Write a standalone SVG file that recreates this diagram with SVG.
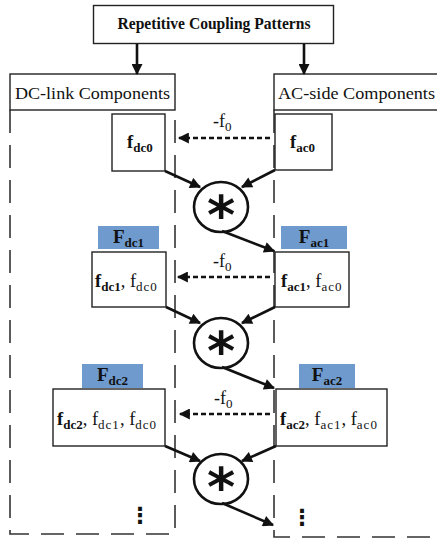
<svg xmlns="http://www.w3.org/2000/svg" width="437" height="540" viewBox="0 0 437 540">
<defs>
<marker id="ah" viewBox="0 0 10 10" markerUnits="userSpaceOnUse" markerWidth="13" markerHeight="11" refX="9" refY="5" orient="auto">
<path d="M0,0 L10,5 L0,10 z" fill="#111"/>
</marker>
<style>
.box{fill:#fff;stroke:#222;stroke-width:1.4}
.cont{fill:none;stroke:#333;stroke-width:1.6;stroke-dasharray:23 12}
.lbl{fill:#6f9acd}
.arr{stroke:#111;stroke-width:2.6;fill:none;marker-end:url(#ah)}
.darr{stroke:#111;stroke-width:2.6;fill:none;stroke-dasharray:5 3;marker-end:url(#ah)}
.circ{fill:#fff;stroke:#111;stroke-width:2.6}
text{font-family:"Liberation Serif","Times New Roman",serif;fill:#111}
.t{font-size:18.5px}
.s{font-size:13px}
.b{font-weight:bold}
.ast{font-family:"DejaVu Sans",sans-serif;font-weight:bold;font-size:54px;text-anchor:middle}
.dots{font-family:"DejaVu Sans",sans-serif;font-weight:bold;font-size:22px;text-anchor:middle}
</style>
</defs>

<g id="title">
<rect class="box" x="93.5" y="5.5" width="240" height="38"/>
<text x="214" y="29" text-anchor="middle" class="b" font-size="16.5" textLength="193" lengthAdjust="spacingAndGlyphs">Repetitive Coupling Patterns</text>
</g>

<g id="dc-container">
<path class="cont" d="M10,110 V534 H175 V110"/>
<rect class="box" x="10" y="74" width="165" height="36"/>
<text x="15" y="99" font-size="17.5" textLength="155" lengthAdjust="spacingAndGlyphs">DC-link Components</text>
</g>

<g id="ac-container">
<path class="cont" d="M274,110 V537 H445"/>
<rect class="box" x="274" y="74" width="170" height="36"/>
<text x="278" y="99" font-size="17.5" textLength="157" lengthAdjust="spacingAndGlyphs">AC-side Components</text>
</g>

<g id="fdc0">
<rect class="box" x="112" y="114" width="53" height="57"/>
<text x="127" y="148" class="t b">f<tspan class="s" dy="4">dc0</tspan></text>
</g>
<g id="fac0">
<rect class="box" x="275" y="114" width="57" height="56"/>
<text x="290" y="148" class="t b">f<tspan class="s" dy="4">ac0</tspan></text>
</g>

<g id="Fdc1">
<rect class="lbl" x="98" y="226" width="61" height="23"/>
<text x="128.5" y="243" text-anchor="middle" class="b" font-size="19">F<tspan class="s" dy="4">dc1</tspan></text>
</g>
<g id="Fac1">
<rect class="lbl" x="281" y="226" width="66" height="23"/>
<text x="314" y="243" text-anchor="middle" class="b" font-size="19">F<tspan class="s" dy="4">ac1</tspan></text>
</g>
<g id="fdc1">
<rect class="box" x="92" y="252" width="74" height="55"/>
<text x="95" y="287" class="t"><tspan class="b">f</tspan><tspan class="s b" dy="4">dc1</tspan><tspan dy="-4">, f</tspan><tspan class="s" dy="4" letter-spacing="1">dc0</tspan></text>
</g>
<g id="fac1">
<rect class="box" x="275" y="252" width="74" height="55"/>
<text x="281" y="287" class="t"><tspan class="b">f</tspan><tspan class="s b" dy="4">ac1</tspan><tspan dy="-4">, f</tspan><tspan class="s" dy="4" letter-spacing="1">ac0</tspan></text>
</g>

<g id="Fdc2">
<rect class="lbl" x="82" y="364" width="61" height="24"/>
<text x="112.5" y="381" text-anchor="middle" class="b" font-size="19">F<tspan class="s" dy="4">dc2</tspan></text>
</g>
<g id="Fac2">
<rect class="lbl" x="299" y="364" width="56" height="24"/>
<text x="327" y="381" text-anchor="middle" class="b" font-size="19">F<tspan class="s" dy="4">ac2</tspan></text>
</g>
<g id="fdc2">
<rect class="box" x="53" y="389" width="112" height="57"/>
<text x="57" y="425" class="t"><tspan class="b">f</tspan><tspan class="s b" dy="4">dc2</tspan><tspan dy="-4">, f</tspan><tspan class="s" dy="4" letter-spacing="1">dc1</tspan><tspan dy="-4">, f</tspan><tspan class="s" dy="4" letter-spacing="1">dc0</tspan></text>
</g>
<g id="fac2">
<rect class="box" x="276" y="389" width="111" height="57"/>
<text x="280" y="425" class="t"><tspan class="b">f</tspan><tspan class="s b" dy="4">ac2</tspan><tspan dy="-4">, f</tspan><tspan class="s" dy="4" letter-spacing="1">ac1</tspan><tspan dy="-4">, f</tspan><tspan class="s" dy="4" letter-spacing="1">ac0</tspan></text>
</g>

<g id="conv1">
<ellipse class="circ" cx="221" cy="207" rx="27" ry="25"/>
<text class="ast" x="221" y="234">*</text>
</g>
<g id="conv2">
<ellipse class="circ" cx="221" cy="343" rx="27" ry="25"/>
<text class="ast" x="221" y="370">*</text>
</g>
<g id="conv3">
<ellipse class="circ" cx="221" cy="479" rx="27" ry="25"/>
<text class="ast" x="221" y="506">*</text>
</g>

<g id="dots-dc"><text class="dots" x="140" y="523">⋮</text></g>
<g id="dots-ac"><text class="dots" x="302" y="525">⋮</text></g>

<g id="connectors">
<line class="arr" x1="137" y1="44" x2="137" y2="74"/>
<line class="arr" x1="304" y1="44" x2="304" y2="74"/>

<line class="darr" x1="270" y1="138" x2="179" y2="138"/>
<line class="darr" x1="270" y1="277" x2="178" y2="277"/>
<line class="darr" x1="270" y1="414" x2="180" y2="414"/>

<line class="arr" x1="165" y1="171" x2="200" y2="187"/>
<line class="arr" x1="275" y1="170" x2="242" y2="187"/>
<line class="arr" x1="222" y1="231" x2="274" y2="251"/>

<line class="arr" x1="166" y1="307" x2="200" y2="323"/>
<line class="arr" x1="275" y1="307" x2="242" y2="323"/>
<line class="arr" x1="222" y1="367" x2="274" y2="388"/>

<line class="arr" x1="165" y1="446" x2="200" y2="461"/>
<line class="arr" x1="276" y1="446" x2="242" y2="461"/>
<line class="arr" x1="222" y1="503" x2="273" y2="525"/>

<text x="213" y="127" font-size="18">-f<tspan font-size="13" dy="4">0</tspan></text>
<text x="213" y="267" font-size="18">-f<tspan font-size="13" dy="4">0</tspan></text>
<text x="214" y="404" font-size="18">-f<tspan font-size="13" dy="4">0</tspan></text>
</g>
</svg>
